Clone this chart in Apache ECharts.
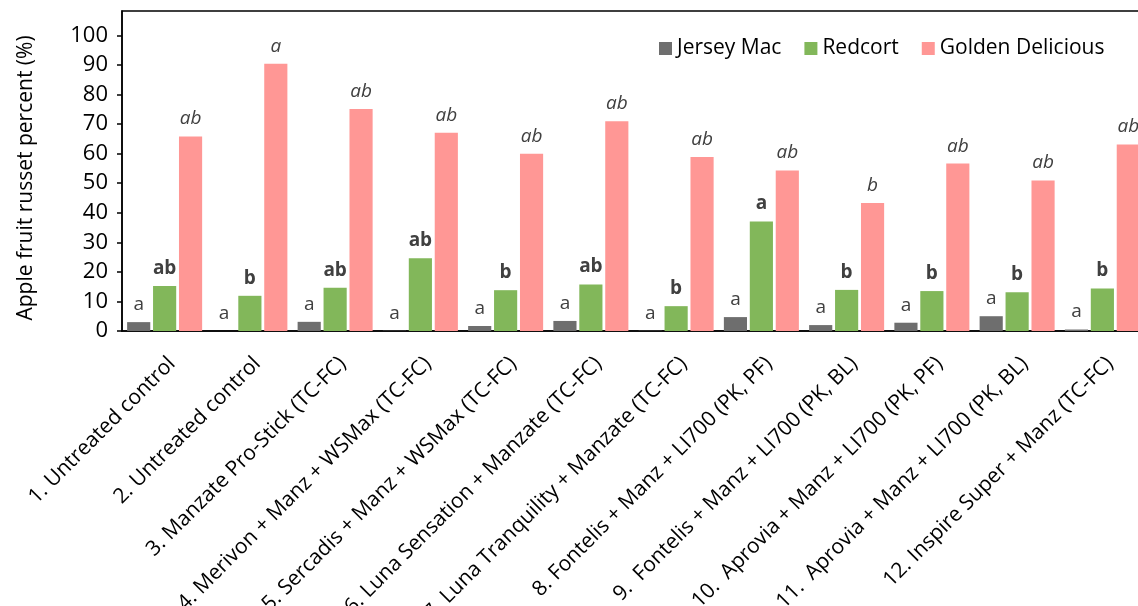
<!DOCTYPE html>
<html>
<head>
<meta charset="utf-8">
<script src="https://cdn.jsdelivr.net/npm/echarts@6/dist/echarts.min.js"></script>
<style>
html,body{margin:0;padding:0;background:#fff;}
#chart{width:1138px;height:606px;}
</style>
</head>
<body>
<div id="chart"></div>
<script>
// treatments on the x axis
var categories=["1. Untreated control","2. Untreated control","3. Manzate Pro-Stick (TC-FC)",
    "4. Merivon + Manz + WSMax (TC-FC)","5. Sercadis + Manz + WSMax (TC-FC)","6. Luna Sensation + Manzate (TC-FC)",
    "7. Luna Tranquility + Manzate (TC-FC)","8. Fontelis + Manz + LI700 (PK, PF)","9.  Fontelis + Manz + LI700 (PK, BL)",
    "10.  Aprovia + Manz + LI700 (PK, PF)","11.  Aprovia + Manz + LI700 (PK, BL)","12. Inspire Super + Manz (TC-FC)"];
// russet percent per cultivar
var jerseyMac=[3.0,0,3.1,0.1,1.7,3.4,0.1,4.7,2.0,2.8,5.0,0.5];
var redcort=[15.2,11.9,14.6,24.6,13.8,15.7,8.4,37.0,13.9,13.5,13.1,14.4];
var golden=[65.8,90.4,75.1,67.0,59.9,70.9,58.8,54.3,43.3,56.6,50.9,63.1];
// letters of mean separation
var jerseyLetters=["a","a","a","a","a","a","a","a","a","a","a","a"];
var redcortLetters=["ab","b","ab","ab","b","ab","b","a","b","b","b","b"];
var goldenLetters=["ab","a","ab","ab","ab","ab","ab","ab","b","ab","ab","ab"];
var yTicks=[0,10,20,30,40,50,60,70,80,90,100];

var FONT="Open Sans";

function makeSeries(name,data,letters,color,weight,style){
    return {
        name:name,
        type:"bar",
        data:data,
        barGap:"12%",
        barCategoryGap:"12%",
        itemStyle:{color:color},
        label:{
            show:true,
            position:"top",
            distance:8,
            fontFamily:FONT,
            fontSize:19,
            fontWeight:weight,
            fontStyle:style,
            color:"#404040",
            formatter:function(p){return letters[p.dataIndex];}
        }
    };
}

var myChart=echarts.init(document.getElementById("chart"));
var option={
    animation:false,
    textStyle:{fontFamily:FONT},
    // labels run past the canvas, so do not let the grid shrink
    grid:{left:122,top:11,bottom:275,right:-7,outerBoundsMode:"none",show:true,borderColor:"#000",borderWidth:1.5},
    legend:{
        left:654,
        top:33,
        itemWidth:13,
        itemHeight:13,
        itemGap:23,
        icon:"rect",
        textStyle:{fontFamily:FONT,fontSize:21,color:"#000"},
        data:["Jersey Mac","Redcort","Golden Delicious"]
    },
    xAxis:{
        type:"category",
        data:categories,
        axisLine:{lineStyle:{color:"#000",width:1.5}},
        axisTick:{length:7,lineStyle:{color:"#000",width:1.5}},
        axisLabel:{interval:0,rotate:45,margin:22,verticalAlign:"top",fontFamily:FONT,fontSize:21,color:"#000"}
    },
    yAxis:{
        type:"value",
        min:0,
        max:108.2,
        name:"Apple fruit russet percent (%)",
        nameLocation:"middle",
        nameGap:85,
        nameTextStyle:{fontFamily:FONT,fontSize:21,color:"#000",padding:[0,0,0,-14]},
        splitLine:{show:false},
        axisLine:{show:true,lineStyle:{color:"#000",width:1.5}},
        axisTick:{show:true,length:5,customValues:yTicks,lineStyle:{color:"#000",width:1.5}},
        axisLabel:{customValues:yTicks,margin:14,fontFamily:FONT,fontSize:22,color:"#000"}
    },
    series:[
        makeSeries("Jersey Mac",jerseyMac,jerseyLetters,"#6e6e6e","normal","normal"),
        makeSeries("Redcort",redcort,redcortLetters,"#82b75a","bold","normal"),
        makeSeries("Golden Delicious",golden,goldenLetters,"#ff9795","normal","italic")
    ]
};
myChart.setOption(option);
</script>
</body>
</html>
